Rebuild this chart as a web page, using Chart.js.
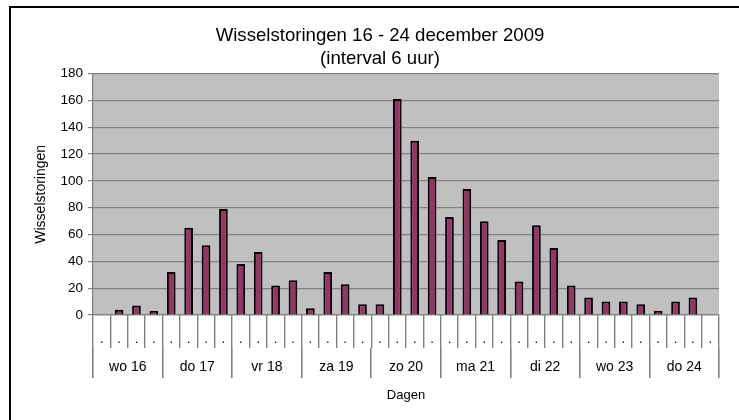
<!DOCTYPE html>
<html>
<head>
<meta charset="utf-8">
<script src="https://cdn.jsdelivr.net/npm/chart.js@4/dist/chart.umd.min.js"></script>
<style>
  body { margin: 0; background: #fff; }
  #wrap { position: relative; width: 739px; height: 420px; }
  #frame {
    position: absolute; left: 9px; top: 6px; right: 0; bottom: 0;
    border-left: 2px solid #000; border-top: 2px solid #000;
    pointer-events: none;
  }
</style>
</head>
<body>
<div id="wrap">
  <canvas id="storingChart" width="739" height="420"></canvas>
  <div id="frame"></div>
</div>
<script>
// dagen en 4 intervallen van 6 uur per dag
const days = ['wo 16', 'do 17', 'vr 18', 'za 19', 'zo 20', 'ma 21', 'di 22', 'wo 23', 'do 24'];
const slotLabels = Array(36).fill('.');

const wo16 = [0, 4, 7, 3];
const do17 = [32, 65, 52, 79];
const vr18 = [38, 47, 22, 26];
const za19 = [5, 32, 23, 8];
const zo20 = [8, 161, 130, 103];
const ma21 = [73, 94, 70, 56];
const di22 = [25, 67, 50, 22];
const wo23 = [13, 10, 10, 8];
const do24 = [3, 10, 13, 0];

const storingen = [].concat(wo16, do17, vr18, za19, zo20, ma21, di22, wo23, do24);
const yTicks = [0, 20, 40, 60, 80, 100, 120, 140, 160, 180];

const font = 'Liberation Sans, Arial, sans-serif';

// grijze achtergrond van het plotgebied
const plotBackground = {
    id: 'plotBackground',
    beforeDraw(chart) {
        const { ctx, chartArea } = chart;
        ctx.save();
        ctx.fillStyle = '#c0c0c0';
        ctx.fillRect(chartArea.left, chartArea.top, chartArea.right - chartArea.left, chartArea.bottom - chartArea.top);
        ctx.restore();
    }
};

document.addEventListener('DOMContentLoaded', function() {
    const ctx = document.getElementById('storingChart').getContext('2d');
    new Chart(ctx, {
        type: 'bar',
        data: {
            labels: slotLabels,
            datasets: [{
                label: 'Wisselstoringen',
                data: storingen,
                backgroundColor: '#993366',
                borderColor: '#000000',
                borderWidth: 2,
                categoryPercentage: 1,
                barPercentage: 0.5
            }]
        },
        options: {
            responsive: false,
            animation: false,
            layout: { padding: { left: 41, right: 20, top: 10, bottom: 17 } },
            plugins: {
                legend: { display: false },
                tooltip: { enabled: false },
                title: {
                    display: true,
                    text: ['Wisselstoringen 16 - 24 december 2009', '(interval 6 uur)'],
                    color: '#000',
                    font: { family: font, size: 18.6, weight: 'normal', lineHeight: 1.2 },
                    padding: { top: 15, bottom: 4 }
                }
            },
            scales: {
                y: {
                    min: 0,
                    max: 180,
                    afterBuildTicks: function(axis) {
                        axis.ticks = yTicks.map(v => ({ value: v }));
                    },
                    afterFit: function(axis) { axis.width = 52; },
                    ticks: { color: '#000', font: { family: font, size: 13.5 }, padding: 5 },
                    grid: { color: '#808080', lineWidth: 1.2, tickLength: 5 },
                    border: { color: '#808080', width: 1.2 },
                    title: {
                        display: true,
                        text: 'Wisselstoringen',
                        color: '#000',
                        font: { family: font, size: 14 },
                        padding: { top: -8, bottom: 0 }
                    }
                },
                x: {
                    weight: 0,
                    offset: true,
                    afterFit: function(axis) { axis.height = 33; },
                    ticks: {
                        color: '#000', font: { family: font, size: 13 },
                        padding: -16, autoSkip: false, maxRotation: 0
                    },
                    grid: { offset: true, drawOnChartArea: false, color: '#808080', lineWidth: 1.4, tickLength: 33 },
                    border: { color: '#808080', width: 1.2 }
                },
                x2: {
                    type: 'category',
                    position: 'bottom',
                    weight: 1,
                    labels: days,
                    offset: true,
                    afterFit: function(axis) { axis.height = 55; },
                    ticks: {
                        color: '#000', font: { family: font, size: 14 },
                        padding: -19, autoSkip: false, maxRotation: 0
                    },
                    grid: { offset: true, drawOnChartArea: false, color: '#808080', lineWidth: 1.6, tickLength: 30 },
                    border: { display: false },
                    title: {
                        display: true,
                        text: 'Dagen',
                        color: '#000',
                        font: { family: font, size: 13 },
                        padding: { top: 0, bottom: 0 }
                    }
                }
            }
        },
        plugins: [plotBackground]
    });
});
</script>
</body>
</html>
